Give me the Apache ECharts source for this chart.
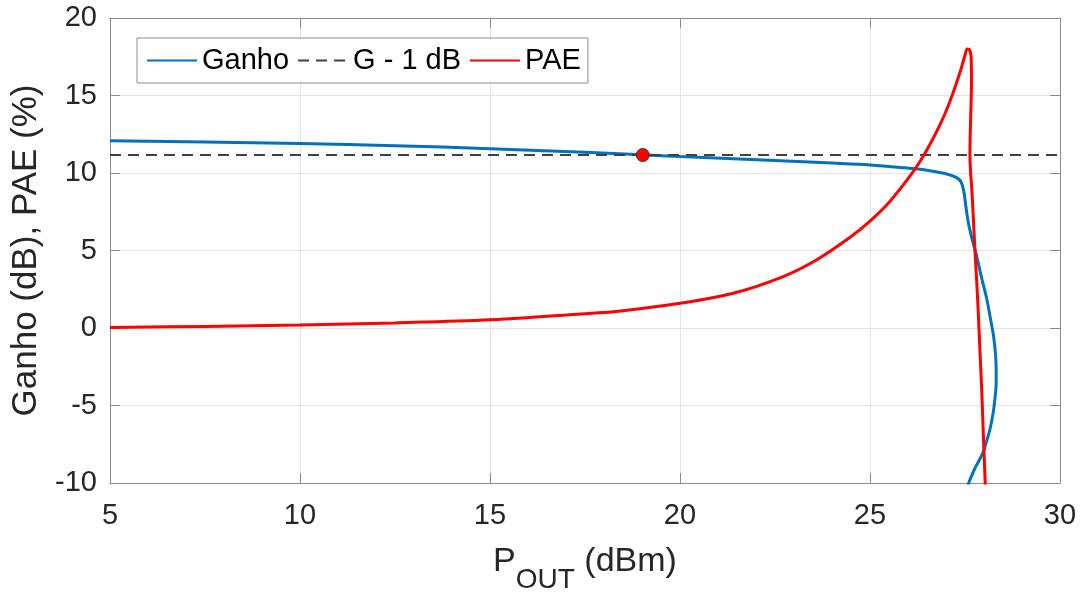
<!DOCTYPE html>
<html>
<head>
<meta charset="utf-8">
<script src="https://cdn.jsdelivr.net/npm/echarts@6/dist/echarts.min.js"></script>
<style>
html,body{margin:0;padding:0;background:#fff;}
#chart{width:1084px;height:592px;}
</style>
</head>
<body>
<div id="chart"></div>
<script>
// Gain curve (Pout dBm, Gain dB)
const ganhoPout = [5, 7.5, 10, 12.5, 15, 17.5, 19, 20, 22.5, 24, 25, 25.8, 26.5, 27.0, 27.28, 27.4, 27.47, 27.52, 27.58, 27.68, 27.8, 27.93, 28.07, 28.17, 28.25, 28.3, 28.32, 28.32, 28.29, 28.24, 28.16, 28.07, 27.98, 27.86, 27.76, 27.61, 27.55];
const ganhoDb   = [12.08, 12.0, 11.91, 11.76, 11.57, 11.34, 11.18, 11.06, 10.8, 10.64, 10.52, 10.36, 10.18, 9.95, 9.7, 9.4, 8.8, 7.9, 6.9, 5.8, 4.7, 3.3, 1.9, 0.6, -0.5, -1.6, -2.6, -3.6, -4.5, -5.5, -6.5, -7.3, -8.0, -8.6, -9.05, -9.92, -10.4];
// PAE curve (Pout dBm, PAE %)
const paePout = [5, 7.5, 10, 12.5, 15, 17.5, 18.5, 20, 21.4, 22.7, 23.6, 24.5, 25, 25.5, 26.14, 26.5, 26.84, 27.1, 27.37, 27.5, 27.56, 27.62, 27.66, 27.67, 27.66, 27.65, 27.63, 27.69, 27.76, 27.83, 27.89, 27.94, 27.98, 28.03, 28.04];
const paeVal  = [0.04, 0.1, 0.19, 0.33, 0.53, 0.92, 1.12, 1.59, 2.24, 3.3, 4.4, 5.9, 6.9, 8.1, 10.1, 11.5, 13.1, 14.6, 16.5, 17.6, 18.0, 17.95, 17.5, 16.0, 14.5, 13.7, 11.2, 8.5, 5.1, 2.0, -1.3, -4.0, -6.7, -9.9, -10.5];
// G - 1 dB reference line
const refPout = [5, 30];
const refDb = [11.16, 11.16];
// 1 dB compression point
const p1dbPout = [19.02];
const p1dbVal = [11.16];
const legendNames = ['Ganho', 'G - 1 dB', 'PAE'];

const zip = (a, b) => a.map((v, i) => [v, b[i]]);

const axisColor = '#8c8c8c';
const font = 'Liberation Sans, Arial, Helvetica, sans-serif';

const chart = echarts.init(document.getElementById('chart'), null, {renderer: 'canvas'});
chart.setOption({
  animation: false,
  backgroundColor: '#fff',
  grid: {left: 110, right: 24, top: 18, bottom: 109, containLabel: false, outerBoundsMode: 'none'},
  legend: {
    data: legendNames,
    left: 137, top: 38,
    orient: 'horizontal',
    itemWidth: 50, itemHeight: 14, itemGap: 8,
    padding: [8, 7, 8, 9],
    borderColor: '#8c8c8c', borderWidth: 1,
    backgroundColor: '#fff',
    itemStyle: {opacity: 0},
    textStyle: {fontFamily: font, fontSize: 29, color: '#000'},
    selectedMode: false
  },
  xAxis: [{
    type: 'value', min: 5, max: 30, interval: 5,
    position: 'bottom',
    name: '{a|P}{b|OUT}{a| (dBm)}',
    nameLocation: 'middle', nameGap: 62,
    nameTextStyle: {
      fontFamily: font, color: '#262626',
      rich: {
        a: {fontFamily: font, fontSize: 34, lineHeight: 34, color: '#262626', verticalAlign: 'top'},
        b: {fontFamily: font, fontSize: 28, lineHeight: 28, color: '#262626', verticalAlign: 'top', padding: [21, 0, 0, 0]}
      }
    },
    axisLine: {show: true, onZero: false, lineStyle: {color: axisColor, width: 1}},
    axisTick: {show: true, inside: true, length: 10, lineStyle: {color: axisColor}},
    axisLabel: {fontFamily: font, fontSize: 29, color: '#262626', margin: 18},
    splitLine: {show: true, lineStyle: {color: '#e3e3e3', width: 1}}
  }, {
    type: 'value', min: 5, max: 30, interval: 5,
    position: 'top',
    axisLine: {show: true, onZero: false, lineStyle: {color: axisColor, width: 1}},
    axisTick: {show: true, inside: true, length: 10, lineStyle: {color: axisColor}},
    axisLabel: {show: false},
    splitLine: {show: false}
  }],
  yAxis: [{
    type: 'value', min: -10, max: 20, interval: 5,
    position: 'left',
    name: 'Ganho (dB), PAE (%)',
    nameLocation: 'middle', nameGap: 64, nameRotate: 90,
    nameTextStyle: {fontFamily: font, fontSize: 35, color: '#262626'},
    axisLine: {show: true, onZero: false, lineStyle: {color: axisColor, width: 1}},
    axisTick: {show: true, inside: true, length: 10, lineStyle: {color: axisColor}},
    axisLabel: {fontFamily: font, fontSize: 29, color: '#262626', margin: 13},
    splitLine: {show: true, lineStyle: {color: '#e3e3e3', width: 1}}
  }, {
    type: 'value', min: -10, max: 20, interval: 5,
    position: 'right',
    axisLine: {show: true, onZero: false, lineStyle: {color: axisColor, width: 1}},
    axisTick: {show: true, inside: true, length: 10, lineStyle: {color: axisColor}},
    axisLabel: {show: false},
    splitLine: {show: false}
  }],
  series: [{
    name: 'Ganho', type: 'line',
    data: zip(ganhoPout, ganhoDb),
    symbol: 'none', smooth: 0.35, clip: true,
    lineStyle: {color: '#0072BD', width: 3},
    itemStyle: {color: '#0072BD'},
    z: 2
  }, {
    name: 'G - 1 dB', type: 'line',
    data: zip(refPout, refDb),
    symbol: 'none', clip: true,
    lineStyle: {color: '#404040', width: 2, type: [11, 7]},
    itemStyle: {color: '#404040'},
    z: 3
  }, {
    name: 'PAE', type: 'line',
    data: zip(paePout, paeVal),
    symbol: 'none', smooth: 0.35, clip: true,
    lineStyle: {color: '#FF0000', width: 3},
    itemStyle: {color: '#FF0000'},
    z: 4
  }, {
    name: 'P1dB', type: 'scatter',
    data: zip(p1dbPout, p1dbVal),
    symbol: 'circle', symbolSize: 13,
    itemStyle: {color: '#FF0000', borderColor: '#333', borderWidth: 1, opacity: 1},
    z: 5
  }]
});
</script>
</body>
</html>
